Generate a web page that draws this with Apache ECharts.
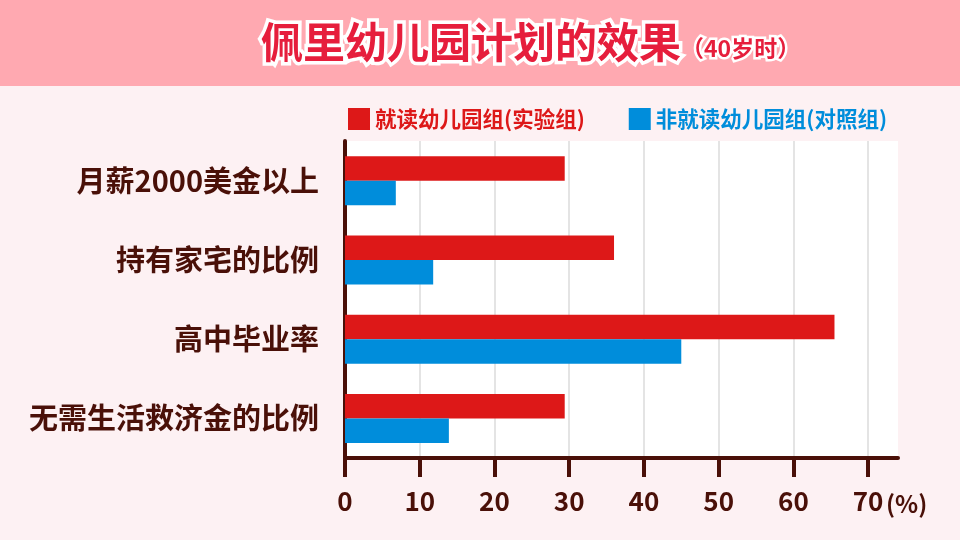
<!DOCTYPE html>
<html>
<head>
<meta charset="utf-8">
<script src="https://cdn.jsdelivr.net/npm/echarts@6/dist/echarts.min.js"></script>
<style>html,body{margin:0;padding:0;background:#fdf1f3;}#c{width:960px;height:540px;}</style>
</head>
<body>
<div id="c"></div>
<script>
const categories = ['月薪2000美金以上', '持有家宅的比例', '高中毕业率', '无需生活救济金的比例'];
const seriesNames = ['就读幼儿园组(实验组)', '非就读幼儿园组(对照组)'];
const experimentValues = [29.4, 36.0, 65.5, 29.4];
const controlValues = [6.8, 11.8, 45.0, 13.9];
const xTicks = [0, 10, 20, 30, 40, 50, 60, 70];

const FONT = '"Noto Sans CJK SC", "Noto Sans", sans-serif';
const AX = '#4a1008';
const RED = '#dd1818';
const BLUE = '#008ddb';

const chart = echarts.init(document.getElementById('c'), null, {renderer: 'canvas'});
chart.setOption({
  backgroundColor: '#fdf1f3',
  animation: false,
  graphic: [
    {type: 'rect', left: 0, top: 0, shape: {width: 960, height: 86}, style: {fill: '#ffa9b1'}, z: -10},
    {type: 'text', left: 886, top: 492, style: {text: '(%)', font: 'bold 24px ' + FONT, fill: AX}}
  ],
  title: {
    text: '{a|佩里幼儿园计划的效果}{b|（40岁时）}',
    left: 256,
    top: 16,
    textStyle: {
      rich: {
        a: {fontSize: 42, fontWeight: 'bold', fontFamily: FONT, color: '#e61e3c', textBorderColor: '#fff', textBorderWidth: 7},
        b: {fontSize: 23, fontWeight: 'bold', fontFamily: FONT, color: '#e61e3c', textBorderColor: '#fff', textBorderWidth: 5, padding: [12, 0, 0, 0]}
      }
    }
  },
  legend: {
    left: 343,
    top: 103,
    itemWidth: 22,
    itemHeight: 22,
    itemGap: 44,
    itemTextGap: 10,
    icon: 'rect',
    textStyle: {fontSize: 21.5, fontWeight: 'bold', fontFamily: FONT},
    data: [
      {name: seriesNames[0], textStyle: {color: RED}},
      {name: seriesNames[1], textStyle: {color: BLUE}}
    ]
  },
  grid: {
    left: 345, top: 141, width: 553, height: 317,
    show: true, backgroundColor: '#ffffff', borderWidth: 0
  },
  xAxis: {
    type: 'value',
    min: 0, max: 74, interval: 10,
    axisLine: {show: true, lineStyle: {color: AX, width: 4}},
    axisTick: {show: true, length: 19, lineStyle: {color: AX, width: 4}, customValues: xTicks},
    axisLabel: {margin: 30, fontSize: 26, fontWeight: 'bold', fontFamily: FONT, color: AX, customValues: xTicks},
    splitLine: {show: true, lineStyle: {color: '#e4e4e4', width: 2}}
  },
  yAxis: {
    type: 'category',
    data: categories,
    inverse: true,
    axisLine: {show: true, lineStyle: {color: AX, width: 4}},
    axisTick: {show: false},
    axisLabel: {margin: 26, fontSize: 29, fontWeight: 'bold', fontFamily: FONT, color: AX},
    splitLine: {show: false}
  },
  series: [
    {name: seriesNames[0], type: 'bar', data: experimentValues, barWidth: 24.5, barGap: '0%', itemStyle: {color: RED}},
    {name: seriesNames[1], type: 'bar', data: controlValues, barWidth: 24.5, barGap: '0%', itemStyle: {color: BLUE}}
  ]
});
</script>
</body>
</html>
